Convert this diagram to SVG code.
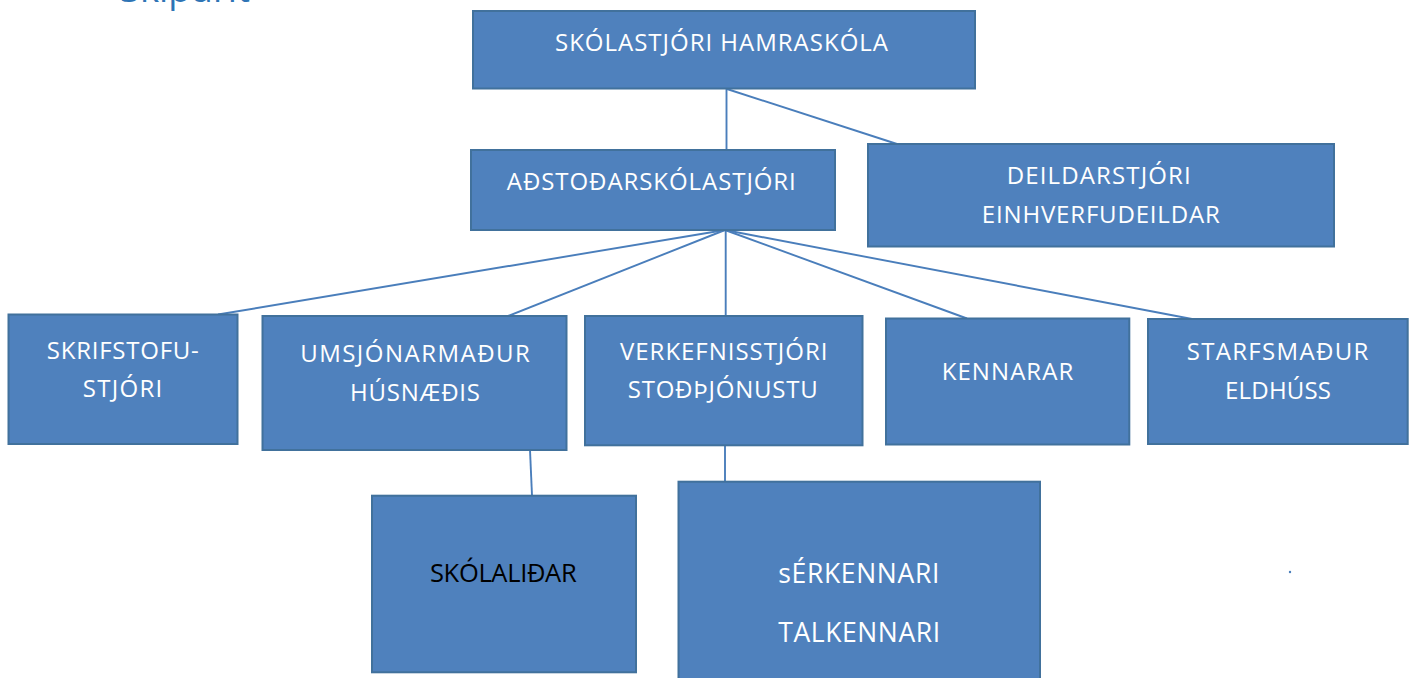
<svg xmlns="http://www.w3.org/2000/svg" width="1413" height="678" viewBox="0 0 1413 678">
<style>
.box{fill:#4F81BD;stroke:#41719C;stroke-width:2}
.t{font-family:"Open Sans","Liberation Sans",sans-serif;font-size:24px;fill:#FFFFFF;text-anchor:middle}
.dark{fill:#000000;font-size:25.5px}
.big{font-size:26.5px}
.con{stroke:#4A7EBB;stroke-width:1.9;fill:none}
.title{font-family:"Open Sans","Liberation Sans",sans-serif;font-size:36px;fill:#2E74B5}
</style>
<rect width="1413" height="678" fill="#FFFFFF"/>
<text class="title" x="120" y="2" textLength="130" lengthAdjust="spacingAndGlyphs">Skipurit</text>
<g id="connectors">
<line class="con" x1="726.5" y1="89" x2="726.5" y2="150"/>
<line class="con" x1="727" y1="89" x2="897" y2="144"/>
<line class="con" x1="725" y1="230" x2="218" y2="314.5"/>
<line class="con" x1="725" y1="230" x2="508" y2="316"/>
<line class="con" x1="725.7" y1="230" x2="725.7" y2="316"/>
<line class="con" x1="725" y1="230" x2="967" y2="318.5"/>
<line class="con" x1="725" y1="230" x2="1192" y2="319"/>
<line class="con" x1="530" y1="450" x2="532" y2="495.5"/>
<line class="con" x1="725" y1="445" x2="725" y2="482"/>
</g>
<g id="n1"><rect class="box" x="473" y="11" width="502" height="77.5"/><text class="t" x="721.5" y="51" textLength="333">SKÓLASTJÓRI HAMRASKÓLA</text></g>
<g id="n2"><rect class="box" x="471" y="150" width="364" height="80"/><text class="t" x="651.3" y="189.5" textLength="289">AÐSTOÐARSKÓLASTJÓRI</text></g>
<g id="n3"><rect class="box" x="868" y="144" width="466" height="102.5"/><text class="t" x="1098.7" y="184" textLength="184">DEILDARSTJÓRI</text><text class="t" x="1100.8" y="223.3" textLength="238">EINHVERFUDEILDAR</text></g>
<g id="n4"><rect class="box" x="8.5" y="314.5" width="229" height="129.5"/><text class="t" x="122.8" y="359" textLength="152">SKRIFSTOFU-</text><text class="t" x="122.5" y="397.3" textLength="79.6">STJÓRI</text></g>
<g id="n5"><rect class="box" x="262.5" y="316" width="304" height="134"/><text class="t" x="415" y="362.3" textLength="229.6">UMSJÓNARMAÐUR</text><text class="t" x="415" y="401" textLength="130">HÚSNÆÐIS</text></g>
<g id="n6"><rect class="box" x="585" y="316" width="277.5" height="129.3"/><text class="t" x="723.7" y="360" textLength="207.3">VERKEFNISSTJÓRI</text><text class="t" x="722.7" y="397.7" textLength="190">STOÐÞJÓNUSTU</text></g>
<g id="n7"><rect class="box" x="886" y="318.5" width="243.3" height="126"/><text class="t" x="1007.5" y="380" textLength="131.6">KENNARAR</text></g>
<g id="n8"><rect class="box" x="1148" y="319" width="259.7" height="125"/><text class="t" x="1277.5" y="360" textLength="181.6">STARFSMAÐUR</text><text class="t" x="1278" y="399" textLength="106">ELDHÚSS</text></g>
<g id="n9"><rect class="box" x="372" y="495.7" width="264" height="176.6"/><text class="t dark" x="503.3" y="581.7" textLength="146.7">SKÓLALIÐAR</text></g>
<g id="n10"><rect class="box" x="678.5" y="481.7" width="361.5" height="200"/><text class="t big" x="858.8" y="582.7" textLength="161">sÉRKENNARI</text><text class="t big" x="859.2" y="641.7" textLength="161.7">TALKENNARI</text></g>
<circle cx="1290" cy="572" r="1.2" fill="#4A7EBB"/>
</svg>
